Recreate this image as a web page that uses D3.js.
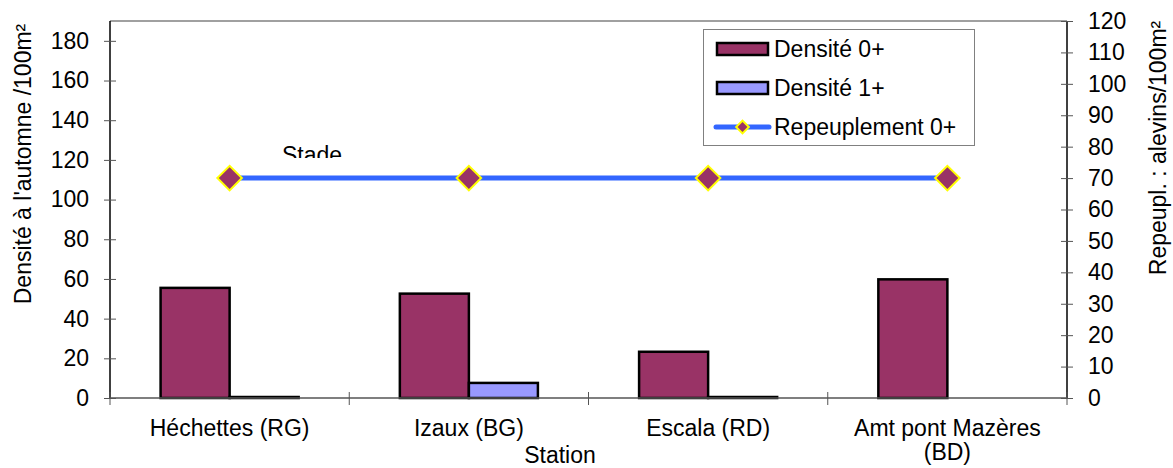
<!DOCTYPE html>
<html>
<head>
<meta charset="utf-8">
<script src="https://cdn.jsdelivr.net/npm/d3@7"></script>
<style>
  body { margin: 0; padding: 0; background: #fff; }
  svg { display: block; font-family: 'Liberation Sans', Arial, sans-serif; }
</style>
</head>
<body>
<div id="main"></div>
<script>
const stations = ['Héchettes (RG)', 'Izaux (BG)', 'Escala (RD)', 'Amt pont Mazères (BD)'];
const stationLines = [['Héchettes (RG)'], ['Izaux (BG)'], ['Escala (RD)'], ['Amt pont Mazères', '(BD)']];
const series = ['Densité 0+', 'Densité 1+'];
const densite0 = [55.5, 52.6, 23.3, 59.8];
const densite1 = [0.5, 7.6, 0.5, 0];
const repeuplement = [70, 70, 70, 70];
const leftTicks = [0, 20, 40, 60, 80, 100, 120, 140, 160, 180];
const rightTicks = [0, 10, 20, 30, 40, 50, 60, 70, 80, 90, 100, 110, 120];

const WIDTH = 1173, HEIGHT = 468;
const LEFT = 110, RIGHT = 1067, TOP = 21, BOTTOM = 398;
const FONT = 23;
const COL0 = '#993366', COL1 = '#9999FF', LINECOL = '#3366FF';

const svg = d3.select('#main').append('svg')
    .attr('width', WIDTH)
    .attr('height', HEIGHT);

const x0 = d3.scaleBand().domain(stations).range([LEFT, RIGHT]).padding(0);
const x1 = d3.scaleBand().domain(series).range([0, x0.bandwidth()]).paddingInner(0).paddingOuter(0.733);
const yL = d3.scaleLinear().domain([0, 190]).range([BOTTOM, TOP]);
const yR = d3.scaleLinear().domain([0, 120]).range([BOTTOM, TOP]);

// top border
svg.append('line')
    .attr('x1', LEFT).attr('x2', RIGHT)
    .attr('y1', TOP).attr('y2', TOP)
    .attr('stroke', '#808080').attr('stroke-width', 1.5);

// bars
const rows = stations.map((s, i) => ({ station: s, vals: [densite0[i], densite1[i]] }));
const groups = svg.selectAll('g.grp').data(rows).enter().append('g')
    .attr('class', 'grp')
    .attr('transform', d => `translate(${x0(d.station)},0)`);
groups.selectAll('rect').data(d => d.vals.map((v, k) => ({ key: series[k], v })).filter(d => d.v > 0))
    .enter().append('rect')
    .attr('x', d => x1(d.key))
    .attr('width', x1.bandwidth())
    .attr('y', d => yL(d.v))
    .attr('height', d => BOTTOM - yL(d.v))
    .attr('fill', d => d.key === series[0] ? COL0 : COL1)
    .attr('stroke', '#000')
    .attr('stroke-width', 2.5);

// left axis
const axL = svg.append('g')
    .attr('transform', `translate(${LEFT},0)`)
    .call(d3.axisLeft(yL).tickValues(leftTicks).tickSize(6).tickPadding(15));
axL.select('.domain').attr('d', `M0,${TOP}V${BOTTOM}`).attr('stroke', '#000').attr('stroke-width', 1.5);
axL.selectAll('.tick line').attr('x1', 6).attr('x2', -6).attr('stroke', '#555');
axL.selectAll('.tick text').attr('font-size', FONT).attr('fill', '#000').attr('font-family', "'Liberation Sans', Arial, sans-serif");

// right axis
const axR = svg.append('g')
    .attr('transform', `translate(${RIGHT},0)`)
    .call(d3.axisRight(yR).tickValues(rightTicks).tickSize(6).tickPadding(15));
axR.select('.domain').attr('d', `M0,${TOP}V${BOTTOM}`).attr('stroke', '#000').attr('stroke-width', 1.5);
axR.selectAll('.tick line').attr('x1', -6).attr('x2', 6).attr('stroke', '#555');
axR.selectAll('.tick text').attr('font-size', FONT).attr('fill', '#000').attr('font-family', "'Liberation Sans', Arial, sans-serif");

// bottom axis
const axB = svg.append('g')
    .attr('transform', `translate(0,${BOTTOM})`)
    .call(d3.axisBottom(x0).tickSize(0).tickFormat(''));
axB.select('.domain').attr('d', `M${LEFT},0H${RIGHT}`).attr('stroke', '#555').attr('stroke-width', 1.5);
const bounds = [LEFT].concat(stations.map(s => x0(s) + x0.bandwidth()));
axB.selectAll('line.sep').data(bounds).enter().append('line')
    .attr('class', 'sep')
    .attr('x1', d => d).attr('x2', d => d)
    .attr('y1', -6).attr('y2', 7)
    .attr('stroke', '#555');

// category labels
stations.forEach((s, i) => {
    const t = svg.append('text')
        .attr('x', x0(s) + x0.bandwidth() / 2)
        .attr('y', 436)
        .attr('text-anchor', 'middle')
        .attr('font-size', FONT);
    stationLines[i].forEach((ln, k) => {
        t.append('tspan').attr('x', x0(s) + x0.bandwidth() / 2).attr('dy', k === 0 ? 0 : 24).text(ln);
    });
});

// axis titles
svg.append('text').text('Station')
    .attr('x', 560).attr('y', 463)
    .attr('text-anchor', 'middle').attr('font-size', FONT);
svg.append('text').text("Densité à l'automne /100m²")
    .attr('transform', 'translate(31,164) rotate(-90)')
    .attr('text-anchor', 'middle').attr('font-size', FONT);
svg.append('text').text('Repeupl. : alevins/100m²')
    .attr('transform', 'translate(1166,148) rotate(-90)')
    .attr('text-anchor', 'middle').attr('font-size', FONT);

// clipped "Stade" label
svg.append('clipPath').attr('id', 'stadeClip')
    .append('rect').attr('x', 260).attr('y', 130).attr('width', 120).attr('height', 28);
svg.append('text').text('Stade')
    .attr('x', 312).attr('y', 163)
    .attr('text-anchor', 'middle').attr('font-size', FONT)
    .attr('clip-path', 'url(#stadeClip)');

// repeuplement line
const cx = s => x0(s) + x0.bandwidth() / 2;
const line = d3.line().x((d, i) => cx(stations[i])).y(d => yR(d));
svg.append('path')
    .datum(repeuplement)
    .attr('d', line)
    .attr('fill', 'none')
    .attr('stroke', LINECOL)
    .attr('stroke-width', 5);
const diamond = d3.symbol().type(d3.symbolSquare).size(300);
svg.selectAll('path.mk').data(repeuplement).enter().append('path')
    .attr('class', 'mk')
    .attr('d', diamond)
    .attr('transform', (d, i) => `translate(${cx(stations[i])},${yR(d)}) rotate(45)`)
    .attr('fill', COL0)
    .attr('stroke', '#FFFF00')
    .attr('stroke-width', 2);

// legend
const lg = svg.append('g');
lg.append('rect')
    .attr('x', 703.5).attr('y', 29.5).attr('width', 271).attr('height', 116)
    .attr('fill', '#fff').attr('stroke', '#808080').attr('stroke-width', 1);
const legendRows = [
    { label: series[0], type: 'bar', color: COL0, y: 49 },
    { label: series[1], type: 'bar', color: COL1, y: 88 },
    { label: 'Repeuplement 0+', type: 'line', color: LINECOL, y: 127 }
];
legendRows.forEach(r => {
    if (r.type === 'bar') {
        lg.append('rect')
            .attr('x', 717).attr('y', r.y - 6).attr('width', 51).attr('height', 12)
            .attr('fill', r.color).attr('stroke', '#000').attr('stroke-width', 2.5);
    } else {
        lg.append('line')
            .attr('x1', 716).attr('x2', 769).attr('y1', r.y).attr('y2', r.y)
            .attr('stroke', r.color).attr('stroke-width', 5).attr('stroke-linecap', 'round');
        lg.append('path')
            .attr('d', d3.symbol().type(d3.symbolSquare).size(80)())
            .attr('transform', `translate(742.5,${r.y}) rotate(45)`)
            .attr('fill', COL0).attr('stroke', '#FFFF00').attr('stroke-width', 2);
    }
    lg.append('text').text(r.label)
        .attr('x', 774).attr('y', r.y + 8)
        .attr('font-size', FONT);
});
</script>
</body>
</html>
